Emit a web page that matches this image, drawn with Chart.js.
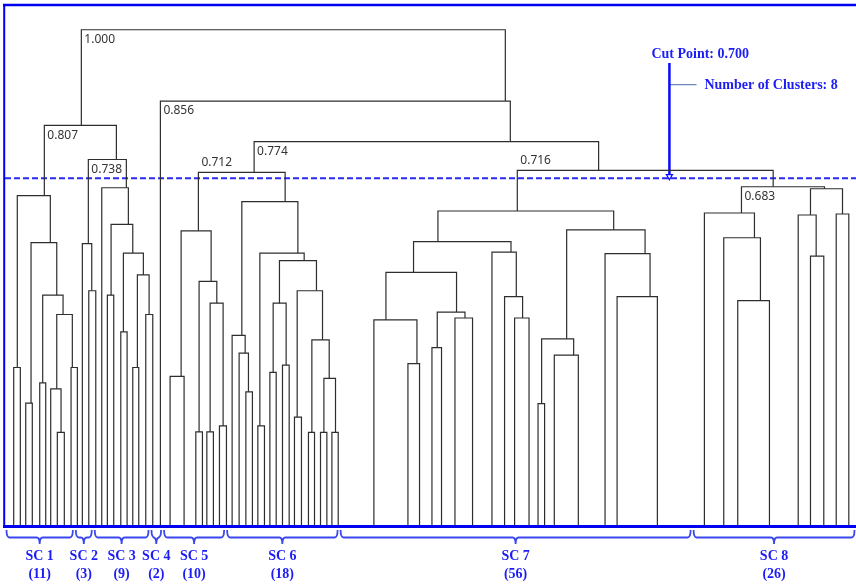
<!DOCTYPE html>
<html>
<head>
<meta charset="utf-8">
<title>Dendrogram</title>
<script src="https://cdn.jsdelivr.net/npm/chart.js@4.4.1/dist/chart.umd.min.js"></script>
<style>
    html, body { margin: 0; padding: 0; background: #fff; overflow: hidden; }
    canvas { display: block; }
</style>
</head>
<body>
<canvas id="dendro" width="856" height="585"></canvas>
<script>
// each merge: [height, left leg x, right leg x, left child height, right child height]
// x is the observation position (0..135), height is the rescaled distance
const sc1Links = [
    [0.318, 1.38, 2.43, 0, 0],
    [0.246, 3.29, 4.33, 0, 0],
    [0.287, 5.51, 6.46, 0, 0],
    [0.187, 8.30, 9.41, 0, 0],
    [0.275, 7.25, 8.89, 0, 0.187],
    [0.318, 10.48, 11.48, 0, 0],
    [0.425, 8.21, 10.68, 0.275, 0.318],
    [0.464, 5.98, 9.21, 0.287, 0.425],
    [0.570, 4.13, 8.21, 0.246, 0.464],
    [0.665, 1.95, 7.19, 0.318, 0.570]
];
const sc2Links = [
    [0.473, 13.29, 14.40, 0, 0],
    [0.568, 12.27, 13.76, 0, 0.473]
];
const sc3Links = [
    [0.464, 16.24, 17.25, 0, 0],
    [0.390, 18.37, 19.37, 0, 0],
    [0.318, 20.27, 21.22, 0, 0],
    [0.425, 22.33, 23.44, 0, 0],
    [0.505, 21.00, 22.86, 0.318, 0.425],
    [0.549, 18.78, 21.95, 0.390, 0.505],
    [0.607, 16.83, 20.27, 0.464, 0.549],
    [0.681, 15.35, 19.57, 0, 0.607]
];
const sc5Links = [
    [0.300, 26.19, 28.41, 0, 0],
    [0.188, 30.27, 31.32, 0, 0],
    [0.188, 32.02, 33.06, 0, 0],
    [0.200, 34.02, 35.13, 0, 0],
    [0.448, 32.54, 34.60, 0.188, 0.200],
    [0.492, 30.79, 33.60, 0.188, 0.448],
    [0.594, 27.94, 32.70, 0.300, 0.492]
];
const sc6Links = [
    [0.269, 38.21, 39.25, 0, 0],
    [0.347, 37.14, 38.62, 0, 0.269],
    [0.383, 36.03, 38.10, 0, 0.347],
    [0.200, 40.11, 41.16, 0, 0],
    [0.308, 42.02, 43.02, 0, 0],
    [0.323, 44.02, 45.08, 0, 0],
    [0.448, 42.54, 44.60, 0.308, 0.323],
    [0.218, 45.92, 47.03, 0, 0],
    [0.187, 48.14, 49.10, 0, 0],
    [0.187, 50.05, 51.06, 0, 0],
    [0.187, 51.86, 52.86, 0, 0],
    [0.296, 50.59, 52.43, 0.187, 0.187],
    [0.374, 48.68, 51.43, 0.187, 0.296],
    [0.473, 46.35, 50.37, 0.218, 0.374],
    [0.534, 43.54, 49.41, 0.448, 0.473],
    [0.549, 40.43, 47.46, 0.200, 0.534],
    [0.653, 37.57, 46.46, 0.383, 0.549]
];
const sc7Links = [
    [0.326, 63.92, 65.76, 0, 0],
    [0.414, 58.52, 65.35, 0, 0.326],
    [0.358, 67.73, 69.25, 0, 0],
    [0.418, 71.38, 74.17, 0, 0],
    [0.430, 68.57, 72.97, 0.358, 0.418],
    [0.510, 60.43, 71.63, 0.414, 0.430],
    [0.418, 80.84, 83.13, 0, 0],
    [0.461, 79.25, 82.11, 0, 0.418],
    [0.551, 77.25, 81.11, 0, 0.461],
    [0.572, 64.81, 80.27, 0.510, 0.551],
    [0.245, 84.56, 85.60, 0, 0],
    [0.343, 87.14, 90.95, 0, 0],
    [0.376, 85.13, 90.21, 0.245, 0.343],
    [0.461, 97.10, 103.49, 0, 0],
    [0.548, 95.19, 102.33, 0, 0.461],
    [0.596, 89.10, 101.54, 0.376, 0.548],
    [0.634, 68.68, 96.56, 0.572, 0.596]
];
const sc8Links = [
    [0.453, 116.24, 121.27, 0, 0],
    [0.580, 114.02, 119.84, 0, 0.453],
    [0.630, 110.95, 118.89, 0, 0.580],
    [0.543, 127.78, 129.89, 0, 0],
    [0.626, 125.83, 128.68, 0, 0.543],
    [0.628, 131.86, 133.86, 0, 0],
    [0.679, 127.78, 132.86, 0.626, 0.628],
    [0.683, 116.83, 130.00, 0.630, 0.679]
];
// joins between the sub-clusters (SC 4 is the single leg of the 0.856 join)
const topLinks = [
    [0.738, 13.22, 19.25, 0.568, 0.681],
    [0.807, 6.24, 17.67, 0.665, 0.738],
    [0.712, 30.68, 44.44, 0.594, 0.653],
    [0.716, 81.27, 121.86, 0.634, 0.683],
    [0.774, 39.52, 94.17, 0.712, 0.716],
    [0.856, 24.65, 80.16, 0, 0.774],
    [1.000, 12.11, 79.37, 0.807, 0.856]
];

const labelHeights = [1.000, 0.856, 0.807, 0.774, 0.738, 0.716, 0.712, 0.683];
const labelsAbove = [0.712, 0.716];

const clusterNames = ['SC 1', 'SC 2', 'SC 3', 'SC 4', 'SC 5', 'SC 6', 'SC 7', 'SC 8'];
const clusterSizes = [11, 3, 9, 2, 10, 18, 56, 26];

const cutPoint = 0.700;
const arrowX = 105.4;
const arrowTop = 0.933;
const arrowTick = 0.889;

const allLinks = [...sc1Links, ...sc2Links, ...sc3Links, ...sc5Links, ...sc6Links, ...sc7Links, ...sc8Links, ...topLinks];
const totalObs = clusterSizes.reduce((a, b) => a + b, 0);

const blue = '#1c1cf5';

function linkDataset(link) {
    const [h, xl, xr, hl, hr] = link;
    return {
        data: [{ x: xl, y: hl }, { x: xl, y: h }, { x: xr, y: h }, { x: xr, y: hr }],
        borderColor: '#2e2e2e',
        borderWidth: 1.2,
        pointRadius: 0,
        tension: 0,
        fill: false
    };
}

const datasets = allLinks.map(linkDataset);

datasets.push({
    data: [{ x: 0, y: cutPoint }, { x: totalObs, y: cutPoint }],
    borderColor: '#2a2af0',
    borderWidth: 2,
    borderDash: [6, 3],
    pointRadius: 0
});
datasets.push({
    data: [{ x: arrowX, y: arrowTop }, { x: arrowX, y: cutPoint + 0.004 }],
    borderColor: '#0a0aff',
    borderWidth: 2.5,
    pointRadius: [0, 3.5],
    pointStyle: 'triangle',
    rotation: 180,
    pointBackgroundColor: '#ffffff',
    pointBorderColor: '#0a0aff',
    pointBorderWidth: 1.2
});
datasets.push({
    data: [{ x: arrowX, y: arrowTick }, { x: arrowX + 4.3, y: arrowTick }],
    borderColor: '#4a6aa8',
    borderWidth: 1,
    pointRadius: 0
});

const decorations = {
    id: 'decorations',
    afterDatasetsDraw(chart) {
        const { ctx, chartArea, scales: { x, y } } = chart;
        ctx.save();

        // distance labels on the main joins
        ctx.font = '12px "Noto Sans"';
        ctx.fillStyle = '#333';
        ctx.textBaseline = 'middle';
        ctx.textAlign = 'left';
        labelHeights.forEach(h => {
            const link = allLinks.find(l => l[0] === h);
            if (!link) return;
            const px = x.getPixelForValue(link[1]) + 3;
            const py = y.getPixelForValue(h) + (labelsAbove.includes(h) ? -9.5 : 10);
            ctx.fillText(h.toFixed(3), px, py);
        });

        // cut point annotation
        const ax = x.getPixelForValue(arrowX);
        ctx.font = 'bold 14px "Liberation Serif"';
        ctx.fillStyle = blue;
        ctx.fillText('Cut Point: ' + cutPoint.toFixed(3), ax - 18, y.getPixelForValue(arrowTop) - 9);
        ctx.fillText('Number of Clusters: ' + clusterNames.length, ax + 35, y.getPixelForValue(arrowTick) + 1);

        // frame
        ctx.strokeStyle = '#0000f0';
        ctx.lineWidth = 2.5;
        ctx.beginPath();
        ctx.moveTo(3, chartArea.top);
        ctx.lineTo(chart.width, chartArea.top);
        ctx.stroke();
        ctx.lineWidth = 2;
        ctx.beginPath();
        ctx.moveTo(4.2, chartArea.top);
        ctx.lineTo(4.2, chartArea.bottom + 2);
        ctx.stroke();
        ctx.lineWidth = 3;
        ctx.beginPath();
        ctx.moveTo(3, chartArea.bottom + 1.5);
        ctx.lineTo(chart.width, chartArea.bottom + 1.5);
        ctx.stroke();

        // cluster brackets
        const yTop = chartArea.bottom + 5;
        const yLine = chartArea.bottom + 12.5;
        const yNib = chartArea.bottom + 19;
        let start = 0;
        clusterSizes.forEach((size, i) => {
            const x0 = x.getPixelForValue(start) + 1.5;
            const x1 = x.getPixelForValue(start + size) - 1.5;
            const xc = (x0 + x1) / 2;
            ctx.strokeStyle = '#3a46ee';
            ctx.lineWidth = 1.8;
            ctx.beginPath();
            ctx.moveTo(x0, yTop);
            ctx.quadraticCurveTo(x0, yLine, x0 + 3, yLine);
            ctx.lineTo(xc - 3, yLine);
            ctx.quadraticCurveTo(xc, yLine, xc, yNib);
            ctx.moveTo(xc, yNib);
            ctx.quadraticCurveTo(xc, yLine, xc + 3, yLine);
            ctx.lineTo(x1 - 3, yLine);
            ctx.quadraticCurveTo(x1, yLine, x1, yTop);
            ctx.stroke();

            ctx.fillStyle = blue;
            ctx.font = 'bold 14px "Liberation Serif"';
            ctx.textAlign = 'center';
            ctx.fillText(clusterNames[i], xc, chartArea.bottom + 31.5);
            ctx.fillText('(' + size + ')', xc, chartArea.bottom + 49.5);
            start += size;
        });

        ctx.restore();
    }
};

new Chart(document.getElementById('dendro'), {
    type: 'line',
    data: { datasets: datasets },
    options: {
        responsive: false,
        animation: false,
        devicePixelRatio: 1,
        layout: { autoPadding: false, padding: { left: 5, right: 0, top: 5, bottom: 60 } },
        plugins: {
            legend: { display: false },
            tooltip: { enabled: false }
        },
        scales: {
            x: { type: 'linear', min: 0, max: totalObs, display: false },
            y: { type: 'linear', min: 0, max: 1.05, display: false }
        }
    },
    plugins: [decorations]
});
</script>
</body>
</html>
